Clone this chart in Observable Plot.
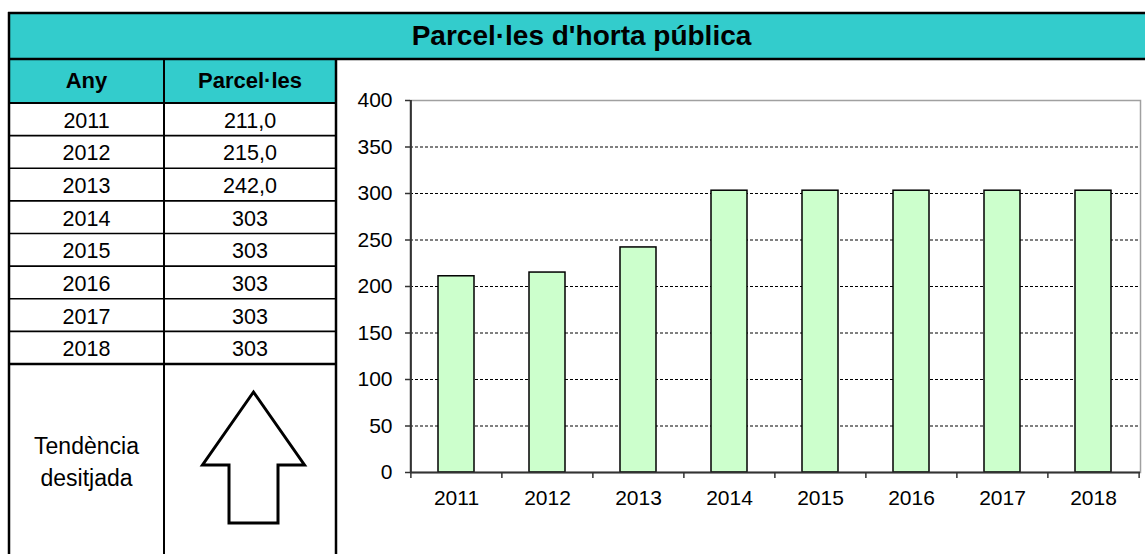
<!DOCTYPE html>
<html>
<head>
<meta charset="utf-8">
<script src="https://cdn.jsdelivr.net/npm/d3@7"></script>
<script src="https://cdn.jsdelivr.net/npm/@observablehq/plot@0.6"></script>
<style>
  html, body { margin: 0; padding: 0; background: #fff; }
  body { width: 1145px; height: 554px; overflow: hidden; position: relative;
         font-family: "Liberation Sans", Arial, sans-serif; color: #000; }
  .cell { position: absolute; display: flex; align-items: center; justify-content: center;
          font-size: 21.5px; white-space: nowrap; box-sizing: border-box; }
  .row { padding-top: 4px; }
  .bold { font-weight: bold; }
  #chart { position: absolute; left: 337px; top: 60px; }
  #overlay { position: absolute; left: 0; top: 0; pointer-events: none; }
</style>
</head>
<body>
<div id="chart"></div>
<svg id="overlay" width="1145" height="554"></svg>
<div id="texts"></div>
<script>
// ---------- data ----------
const title = "Parcel·les d'horta pública";
const colHeaders = ["Any", "Parcel·les"];
const years = ["2011", "2012", "2013", "2014", "2015", "2016", "2017", "2018"];
const values = [211, 215, 242, 303, 303, 303, 303, 303];
const valueLabels = ["211,0", "215,0", "242,0", "303", "303", "303", "303", "303"];
const yTicks = [0, 50, 100, 150, 200, 250, 300, 350, 400];
const gridValues = [50, 100, 150, 200, 250, 300, 350];
const trendLabel = ["Tendència", "desitjada"];

// ---------- layout ----------
const L = {
  left: 9, col1: 164, col2: 336, right: 1160, bottom: 560,
  titleTop: 13, headTop: 59, headBottom: 103, rowH: 32.625
};
const teal = "#33CCCC";

// ---------- chart (Observable Plot) ----------
const chartW = 808, chartH = 494;
const M = { top: 40, right: 5, bottom: 82, left: 73 };
const step = (chartW - M.left - M.right) / years.length;
const data = years.map((year, i) => ({ year, value: values[i] }));

const chart = Plot.plot({
  width: chartW,
  height: chartH,
  marginTop: M.top, marginRight: M.right, marginBottom: M.bottom, marginLeft: M.left,
  style: { fontFamily: "'Liberation Sans', Arial, sans-serif", fontSize: "21px", color: "#000", background: "transparent" },
  x: { type: "band", domain: years, paddingInner: 0.6, paddingOuter: 0.3, label: null },
  y: { domain: [0, 400], label: null },
  marks: [
    Plot.ruleY(gridValues, { stroke: "#000", strokeWidth: 1, strokeDasharray: "3,2" }),
    Plot.frame({ stroke: "#a0a0a0", strokeWidth: 1.5 }),
    Plot.barY(data, { x: "year", y: "value", fill: "#ccffcc", stroke: "#000", strokeWidth: 1.5 }),
    Plot.ruleY([0], { stroke: "#333", strokeWidth: 2 }),
    Plot.ruleX([years[0]], { dx: -step / 2, stroke: "#333", strokeWidth: 2 }),
    Plot.axisY(yTicks, { tickSize: 5, tickPadding: 13, fontSize: 21, stroke: "#333", strokeWidth: 1.5, label: null }),
    Plot.axisX(years, { tickSize: 6, fill: "none", dx: -step / 2, stroke: "#333", strokeWidth: 1.5, label: null }),
    Plot.axisX([years[years.length - 1]], { tickSize: 6, fill: "none", dx: step / 2, stroke: "#333", strokeWidth: 1.5, label: null }),
    Plot.axisX(years, { tickSize: 0, tickPadding: 18, fontSize: 21, label: null })
  ]
});
document.getElementById("chart").appendChild(chart);

// ---------- table frame ----------
const svg = d3.select("#overlay");
const rowsBottom = L.headBottom + L.rowH * years.length;

// teal fills
svg.append("rect").attr("x", L.left).attr("y", L.titleTop)
  .attr("width", L.right - L.left).attr("height", L.headTop - L.titleTop).attr("fill", teal);
svg.append("rect").attr("x", L.left).attr("y", L.headTop)
  .attr("width", L.col2 - L.left).attr("height", L.headBottom - L.headTop).attr("fill", teal);

const hLines = [
  { y: L.titleTop, x1: L.left, x2: L.right, w: 2.5 },
  { y: L.headTop, x1: L.left, x2: L.right, w: 2.5 },
  { y: L.headBottom, x1: L.left, x2: L.col2, w: 2 },
  ...years.map((_, i) => ({ y: L.headBottom + L.rowH * (i + 1), x1: L.left, x2: L.col2, w: i === years.length - 1 ? 2.5 : 1.6 }))
];
const vLines = [
  { x: L.left, y1: L.titleTop, y2: L.bottom, w: 2.5 },
  { x: L.col1, y1: L.headTop, y2: L.bottom, w: 2 },
  { x: L.col2, y1: L.headTop, y2: L.bottom, w: 2.5 }
];
svg.selectAll("line.h").data(hLines).join("line")
  .attr("x1", d => d.x1 - 1).attr("x2", d => d.x2).attr("y1", d => d.y).attr("y2", d => d.y)
  .attr("stroke", "#000").attr("stroke-width", d => d.w);
svg.selectAll("line.v").data(vLines).join("line")
  .attr("x1", d => d.x).attr("x2", d => d.x).attr("y1", d => d.y1 - 1).attr("y2", d => d.y2)
  .attr("stroke", "#000").attr("stroke-width", d => d.w);

// arrow (desired trend: up)
const ax = 253.5, tipY = 392, wingY = 465, baseY = 523, wingHalf = 51, shaftHalf = 24.5;
const arrowPts = [
  [ax, tipY], [ax + wingHalf, wingY], [ax + shaftHalf, wingY], [ax + shaftHalf, baseY],
  [ax - shaftHalf, baseY], [ax - shaftHalf, wingY], [ax - wingHalf, wingY]
];
svg.append("polygon").attr("points", arrowPts.map(p => p.join(",")).join(" "))
  .attr("fill", "#fff").attr("stroke", "#000").attr("stroke-width", 3).attr("stroke-linejoin", "miter");

// ---------- table text ----------
const texts = d3.select("#texts");
function cell(x1, x2, y1, y2, txt, cls, size) {
  const d = texts.append("div").attr("class", "cell " + (cls || ""))
    .style("left", x1 + "px").style("width", (x2 - x1) + "px")
    .style("top", y1 + "px").style("height", (y2 - y1) + "px")
    .text(txt);
  if (size) d.style("font-size", size + "px");
  return d;
}
cell(L.left + 2, L.right - 8, L.titleTop, L.headTop, title, "bold", 28);
cell(L.left, L.col1, L.headTop, L.headBottom, colHeaders[0], "bold", 22);
cell(L.col1, L.col2, L.headTop, L.headBottom, colHeaders[1], "bold", 22);
years.forEach((yr, i) => {
  const y1 = L.headBottom + L.rowH * i, y2 = y1 + L.rowH;
  cell(L.left, L.col1, y1, y2, yr, "row");
  cell(L.col1, L.col2, y1, y2, valueLabels[i], "row");
});
texts.append("div").attr("class", "cell")
  .style("left", L.left + "px").style("width", (L.col1 - L.left) + "px")
  .style("top", rowsBottom + "px").style("height", (L.bottom - rowsBottom) + "px")
  .style("flex-direction", "column").style("line-height", "32px").style("font-size", "23px")
  .selectAll("span").data(trendLabel).join("span").text(d => d);
</script>
</body>
</html>
